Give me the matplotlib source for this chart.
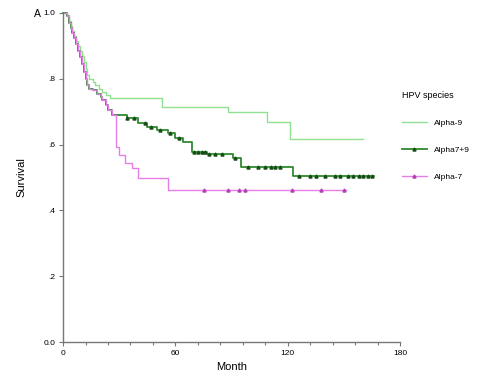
import matplotlib.pyplot as plt
import numpy as np

plt.rcParams['font.family'] = ['Liberation Sans', 'DejaVu Sans']

# Kaplan-Meier steps (month, survival)
alpha9_t = [0, 2, 3, 4, 5, 6, 7, 8, 9, 10, 11, 12, 13, 14, 16, 17, 19, 21, 23,
            25, 53, 88, 109, 121, 160]
alpha9_s = [1.0, 0.99, 0.975, 0.96, 0.945, 0.93, 0.915, 0.90, 0.885, 0.87,
            0.85, 0.83, 0.81, 0.80, 0.79, 0.78, 0.77, 0.76, 0.75, 0.742,
            0.715, 0.70, 0.67, 0.617, 0.617]

alpha79_t = [0, 2, 3, 4, 5, 6, 7, 8, 9, 10, 11, 12, 13, 14, 16, 18, 20, 21,
             23, 24, 26, 34, 40, 45, 50, 56, 60, 64, 69, 77, 91, 95, 123, 166]
alpha79_s = [1.0, 0.99, 0.97, 0.955, 0.94, 0.925, 0.905, 0.885, 0.865, 0.845,
             0.82, 0.80, 0.78, 0.77, 0.765, 0.755, 0.745, 0.735, 0.72, 0.705,
             0.69, 0.68, 0.665, 0.653, 0.645, 0.635, 0.62, 0.608, 0.578, 0.57,
             0.56, 0.532, 0.505, 0.505]
alpha79_cens = [34, 38, 44, 47, 52, 57, 62, 70, 72, 74, 76, 78, 81, 85, 92,
                99, 104, 108, 111, 113, 116, 126, 132, 135, 140, 145, 148,
                152, 155, 158, 160, 163, 165]

alpha7_t = [0, 2, 3, 4, 5, 6, 7, 8, 9, 10, 11, 12, 13, 14, 16, 18, 20, 21,
            23, 24, 26, 28, 30, 33, 37, 40, 56, 151]
alpha7_s = [1.0, 0.99, 0.97, 0.955, 0.94, 0.925, 0.905, 0.885, 0.865, 0.845,
            0.82, 0.80, 0.78, 0.77, 0.765, 0.755, 0.745, 0.735, 0.72, 0.705,
            0.69, 0.593, 0.568, 0.544, 0.528, 0.498, 0.462, 0.462]
alpha7_cens = [75, 88, 94, 97, 122, 138, 150]

x_ticks = [0, 60, 120, 180]
y_ticks = [0.0, 0.2, 0.4, 0.6, 0.8, 1.0]
y_labels = ['0.0', '.2', '.4', '.6', '.8', '1.0']

c9 = '#8fe08f'
c79 = '#2f8a2f'
c7 = '#e77de7'


def surv_at(times, surv, t):
    i = np.searchsorted(times, t, side='right') - 1
    return np.asarray(surv)[i]


fig = plt.figure(figsize=(4.78, 3.78), dpi=100)
ax = fig.add_axes([0.132, 0.095, 0.705, 0.871])

ax.step(alpha9_t, alpha9_s, where='post', color=c9, lw=1.0, clip_on=False,
        label='Alpha-9')
ax.step(alpha79_t, alpha79_s, where='post', color=c79, lw=1.3, clip_on=False)
ax.plot(alpha79_cens, surv_at(alpha79_t, alpha79_s, alpha79_cens), ls='none',
        marker='^', ms=2.2, color='#154d15')
ax.step(alpha7_t, alpha7_s, where='post', color=c7, lw=1.0, clip_on=False)
ax.plot(alpha7_cens, surv_at(alpha7_t, alpha7_s, alpha7_cens), ls='none',
        marker='^', ms=2.2, color='#b040b0')

# legend handles
ax.plot([], [], color=c79, lw=1.3, marker='^', ms=2.2, mfc='#154d15',
        mec='#154d15', label='Alpha7+9')
ax.plot([], [], color=c7, lw=1.0, marker='^', ms=2.2, mfc='#b040b0',
        mec='#b040b0', label='Alpha-7')

ax.set_xlim(0, 180)
ax.set_ylim(0, 1.0)
ax.set_xticks(x_ticks)
ax.set_xticks(np.arange(0, 181, 12), minor=True)
ax.set_yticks(y_ticks)
ax.set_yticklabels(y_labels)
ax.tick_params(labelsize=6, length=3, color='#777777', width=0.8, pad=2.5)
ax.tick_params(which='minor', length=2, color='#777777', width=0.8)

for s in ['top', 'right']:
    ax.spines[s].set_visible(False)
for s in ['left', 'bottom']:
    ax.spines[s].set_color('#777777')
    ax.spines[s].set_linewidth(1.0)

ax.set_xlabel('Month', fontsize=8, labelpad=4)
ax.set_ylabel('Survival', fontsize=8, labelpad=12)
fig.text(0.078, 0.962, 'A', fontsize=7.5, ha='center', va='center')

leg = ax.legend(loc='upper left', bbox_to_anchor=(0.825, 0.78),
                bbox_transform=fig.transFigure, frameon=False, fontsize=6,
                title='HPV species', title_fontsize=6.5, handlelength=3,
                labelspacing=2.3, alignment='left')

fig.savefig('out.png', dpi=100)
